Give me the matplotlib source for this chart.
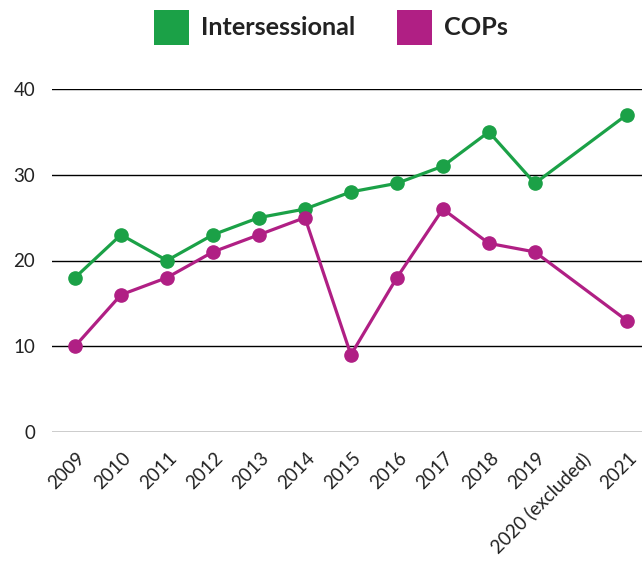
import matplotlib
matplotlib.use("Agg")
import matplotlib.pyplot as plt
import matplotlib.transforms as mtransforms
from matplotlib.patches import Rectangle
import numpy as np

years = ["2009", "2010", "2011", "2012", "2013", "2014", "2015", "2016",
         "2017", "2018", "2019", "2020 (excluded)", "2021"]
intersessional = [18, 23, 20, 23, 25, 26, 28, 29, 31, 35, 29, np.nan, 37]
cops = [10, 16, 18, 21, 23, 25, 9, 18, 26, 22, 21, np.nan, 13]
yticks = [0, 10, 20, 30, 40]

GREEN = "#1ba147"
MAGENTA = "#b01f84"
TEXT = "#222222"

plt.rcParams['font.family'] = ['Lato', 'DejaVu Sans']

fig = plt.figure(figsize=(6.42, 5.62), dpi=100)
W, H = 642, 562
ax = fig.add_axes([52 / W, 1 - 432 / H, (642 - 52) / W, (432 - 89) / H])

x = np.arange(len(years))
for vals, col in [(intersessional, GREEN), (cops, MAGENTA)]:
    v = np.array(vals, dtype=float)
    m = ~np.isnan(v)
    ax.plot(x[m], v[m], color=col, lw=2.3, marker='o', ms=9.5,
            clip_on=False, zorder=3)

ax.set_xlim(-0.5, 12.33)
ax.set_ylim(0, 40)
ax.set_yticks(yticks)
ax.set_yticklabels([str(t) for t in yticks], fontsize=13.5, color=TEXT)
ax.tick_params(axis='y', length=0, pad=12)
ax.grid(axis='y', color='black', lw=1)
ax.set_axisbelow(True)
for s in ax.spines.values():
    s.set_visible(False)

ax.set_xticks(x)
ax.set_xticklabels(years, fontsize=13.5, color=TEXT, rotation=45,
                   ha='right', va='center', rotation_mode='anchor')
ax.tick_params(axis='x', length=0, pad=4)
offset = mtransforms.ScaledTranslation(5 / 72, -13 / 72, fig.dpi_scale_trans)
for lbl in ax.get_xticklabels():
    lbl.set_transform(lbl.get_transform() + offset)

# legend
def px(xp, yp):
    return xp / W, 1 - yp / H

for (x0, label, col) in [(154, "Intersessional", GREEN), (397, "COPs", MAGENTA)]:
    fx, fy = px(x0, 45)
    fig.add_artist(Rectangle((fx, fy), 35 / W, 35 / H, transform=fig.transFigure,
                             color=col, lw=0))
    tx, ty = px(x0 + 47, 27.5)
    fig.text(tx, ty, label, fontsize=18.2, fontweight='bold', color=TEXT,
             ha='left', va='center')

fig.savefig("out.png", dpi=100)
